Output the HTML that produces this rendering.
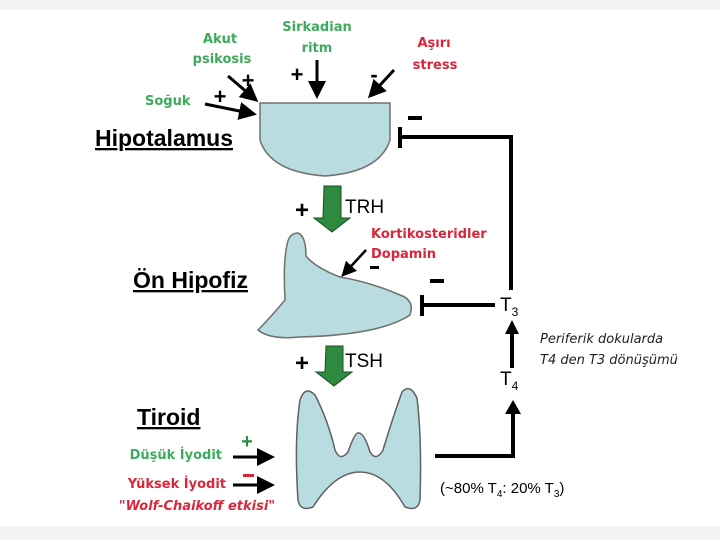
<!DOCTYPE html>
<html><head><meta charset="utf-8"><style>
html,body{margin:0;padding:0;background:#fff;}
svg{display:block;}
.g{fill:#3cab5b;font-weight:bold;font-family:"DejaVu Sans",sans-serif;font-size:13px;}
.r{fill:#d9263a;font-weight:bold;font-family:"DejaVu Sans",sans-serif;font-size:13px;}
.h{font-family:"Liberation Sans",sans-serif;font-size:23px;font-weight:bold;fill:#000;text-decoration:underline;}
.a{font-family:"Liberation Sans",sans-serif;fill:#000;}
.s{font-family:"Liberation Sans",sans-serif;font-weight:bold;fill:#000;}
</style></head><body>
<svg width="720" height="540" viewBox="0 0 720 540" xmlns="http://www.w3.org/2000/svg">
<defs>
<marker id="ah" markerWidth="6" markerHeight="6" refX="5" refY="3" orient="auto" markerUnits="strokeWidth"><path d="M0,0 L6,3 L0,6 z" fill="#000"/></marker>
</defs>
<rect x="0" y="0" width="720" height="10" fill="#f4f4f4"/>
<rect x="0" y="526" width="720" height="14" fill="#f4f4f4"/>
<text class="g" x="220" y="43" text-anchor="middle">Akut</text>
<text class="g" x="222" y="63" text-anchor="middle">psikosis</text>
<text class="g" x="317" y="31" text-anchor="middle">Sirkadian</text>
<text class="g" x="317" y="52" text-anchor="middle">ritm</text>
<text class="r" x="434" y="47" text-anchor="middle">Aşırı</text>
<text class="r" x="435" y="69" text-anchor="middle">stress</text>
<text class="g" x="145" y="105">Soğuk</text>
<g stroke="#000" stroke-width="3" fill="none">
<line x1="228" y1="76" x2="256" y2="100" marker-end="url(#ah)"/>
<line x1="205" y1="104" x2="254" y2="114" marker-end="url(#ah)"/>
<line x1="317" y1="60" x2="317" y2="96" marker-end="url(#ah)"/>
<line x1="394" y1="70" x2="370" y2="96" marker-end="url(#ah)"/>
</g>
<text class="s" x="248" y="88" text-anchor="middle" font-size="22">+</text>
<text class="s" x="220" y="104" text-anchor="middle" font-size="22">+</text>
<text class="s" x="297" y="82" text-anchor="middle" font-size="22">+</text>
<text class="s" x="374" y="82" text-anchor="middle" font-size="22">-</text>
<path d="M260,103 L390,103 L390,140 Q380,172 325,176 Q270,172 260,140 Z" fill="#b8dce0" stroke="#707070" stroke-width="1.5"/>
<text class="h" x="95" y="146">Hipotalamus</text>
<g stroke="#000" stroke-width="4" fill="none">
<line x1="400" y1="137" x2="512" y2="137"/>
<line x1="511" y1="135" x2="511" y2="290"/>
<line x1="400" y1="127" x2="400" y2="148"/>
<line x1="422" y1="305" x2="495" y2="305"/>
<line x1="422" y1="295" x2="422" y2="316"/>
<line x1="512" y1="368" x2="512" y2="332"/>
<path d="M435,456 L513,456 L513,412"/>
</g>
<path d="M505,334 L512,320 L519,334 Z" fill="#000"/>
<path d="M505,414 L513,400 L521,414 Z" fill="#000"/>
<rect x="408" y="116" width="14" height="4" fill="#000"/>
<rect x="430" y="279" width="14" height="4" fill="#000"/>
<path d="M324,186 L341,186 L341,218 L350,218 L332,232 L314,218 L323,218 Z" fill="#2e8a3e" stroke="#1a4d22" stroke-width="1"/>
<text class="s" x="302" y="218" text-anchor="middle" font-size="24">+</text>
<text class="a" x="345" y="213" font-size="19">TRH</text>
<path d="M298,233 Q289,233 287,245 Q283,262 285,300 Q270,318 258,330 Q270,340 300,337 Q380,335 410,315 Q415,300 400,295 Q370,282 340,277 Q316,268 306,256 Q306,236 298,233 Z" fill="#b8dce0" stroke="#707070" stroke-width="1.5"/>
<line x1="366" y1="250" x2="343" y2="275" stroke="#000" stroke-width="2.5" marker-end="url(#ah)"/>
<text class="r" x="371" y="238">Kortikosteridler</text>
<text class="r" x="371" y="258">Dopamin</text>
<rect x="370" y="266" width="9" height="3" fill="#000"/>
<text class="h" x="133" y="288">Ön Hipofiz</text>
<text class="a" x="500" y="311" font-size="19">T<tspan font-size="12" dy="5">3</tspan></text>
<text class="a" x="500" y="385" font-size="19">T<tspan font-size="12" dy="5">4</tspan></text>
<text x="540" y="343" font-family="DejaVu Sans,sans-serif" font-style="italic" font-size="13" fill="#222">Periferik dokularda</text>
<text x="540" y="364" font-family="DejaVu Sans,sans-serif" font-style="italic" font-size="13" fill="#222">T4 den T3 dönüşümü</text>
<path d="M326,346 L343,346 L343,372 L352,372 L334,386 L316,372 L325,372 Z" fill="#2e8a3e" stroke="#1a4d22" stroke-width="1"/>
<text class="s" x="302" y="371" text-anchor="middle" font-size="24">+</text>
<text class="a" x="345" y="367" font-size="19">TSH</text>
<path d="M300,400 Q305,385 315,395 Q328,420 335,450 Q340,462 348,452 Q355,432 358,433 Q364,432 370,452 Q376,462 383,450 Q392,420 402,392 Q410,383 417,398 Q422,440 420,500 Q418,512 405,507 Q385,472 360,472 Q335,472 313,507 Q300,512 298,500 Q294,440 300,400 Z" fill="#b8dce0" stroke="#606060" stroke-width="1.5"/>
<text class="h" x="137" y="425">Tiroid</text>
<g stroke="#000" stroke-width="3" fill="none">
<line x1="233" y1="457" x2="272" y2="457" marker-end="url(#ah)"/>
<line x1="233" y1="485" x2="272" y2="485" marker-end="url(#ah)"/>
</g>
<text class="s" x="247" y="448" text-anchor="middle" font-size="20" style="fill:#2e8a3e">+</text>
<rect x="243" y="474" width="11" height="3" fill="#d9263a"/>
<text class="g" x="222" y="459" text-anchor="end">Düşük İyodit</text>
<text class="r" x="226" y="488" text-anchor="end">Yüksek İyodit</text>
<text class="r" x="197" y="510" text-anchor="middle" font-style="italic">"Wolf-Chaikoff etkisi"</text>
<text class="a" x="440" y="493" font-size="15">(~80% T<tspan font-size="10" dy="4">4</tspan><tspan dy="-4">: 20% T</tspan><tspan font-size="10" dy="4">3</tspan><tspan dy="-4">)</tspan></text>
</svg>
</body></html>
